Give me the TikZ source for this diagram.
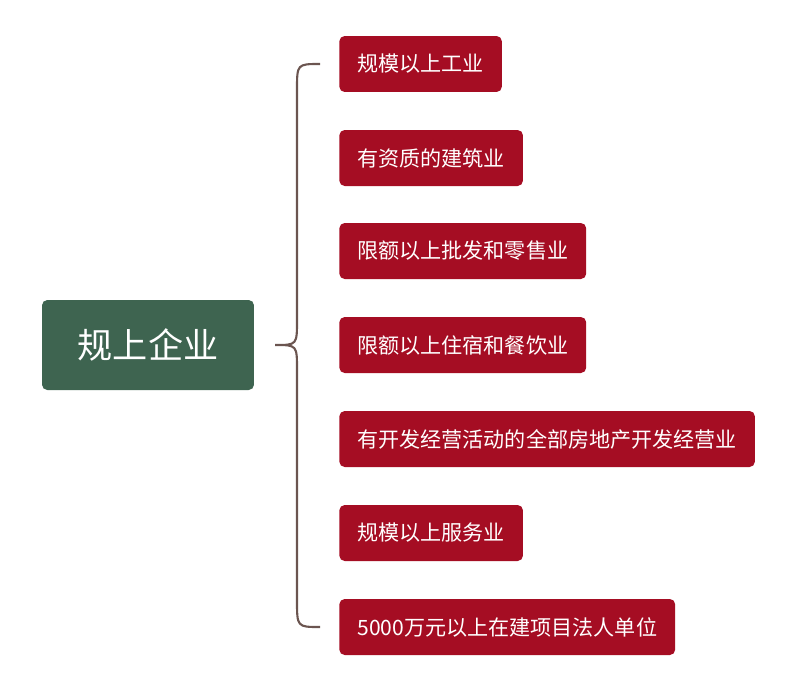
\documentclass[tikz,border=0pt]{standalone}
\usepackage{fontspec}
\setmainfont{Noto Sans CJK SC}
\definecolor{rootgreen}{HTML}{3E6450}
\definecolor{leafred}{HTML}{A50D23}
\definecolor{bracebrown}{HTML}{6B5550}
\tikzset{
  rootbox/.style={fill=rootgreen, text=white, rounded corners=3pt, minimum width=4.24cm, minimum height=1.8cm, font=\fontsize{20}{24}\selectfont},
  leafbox/.style={fill=leafred, text=white, rounded corners=3pt, anchor=west, minimum height=1.12cm, inner xsep=0.36cm, font=\fontsize{12}{14}\selectfont},
  brace/.style={draw=bracebrown, line width=1.2pt}
}
\begin{document}
\begin{tikzpicture}[x=0.02cm,y=-0.02cm]
\useasboundingbox (0,0) rectangle (793,690);
\node[rootbox] (root) at (148,345) {规上企业};
\node[leafbox] (l1) at (339,64) {规模以上工业};
\node[leafbox] (l2) at (339,158) {有资质的建筑业};
\node[leafbox] (l3) at (339,251) {限额以上批发和零售业};
\node[leafbox] (l4) at (339,345) {限额以上住宿和餐饮业};
\node[leafbox] (l5) at (339,439) {有开发经营活动的全部房地产开发经营业};
\node[leafbox] (l6) at (339,533) {规模以上服务业};
\node[leafbox] (l7) at (339,627) {5000万元以上在建项目法人单位};
\coordinate (tip) at (275,345);
\draw[brace] ([xshift=-0.38cm]l1.west) .. controls (297,64) .. (297,90) -- (297,320)
  .. controls (297,345) .. (tip) .. controls (297,345) .. (297,370) -- (297,600)
  .. controls (297,627) .. ([xshift=-0.38cm]l7.west);
\end{tikzpicture}
\end{document}
